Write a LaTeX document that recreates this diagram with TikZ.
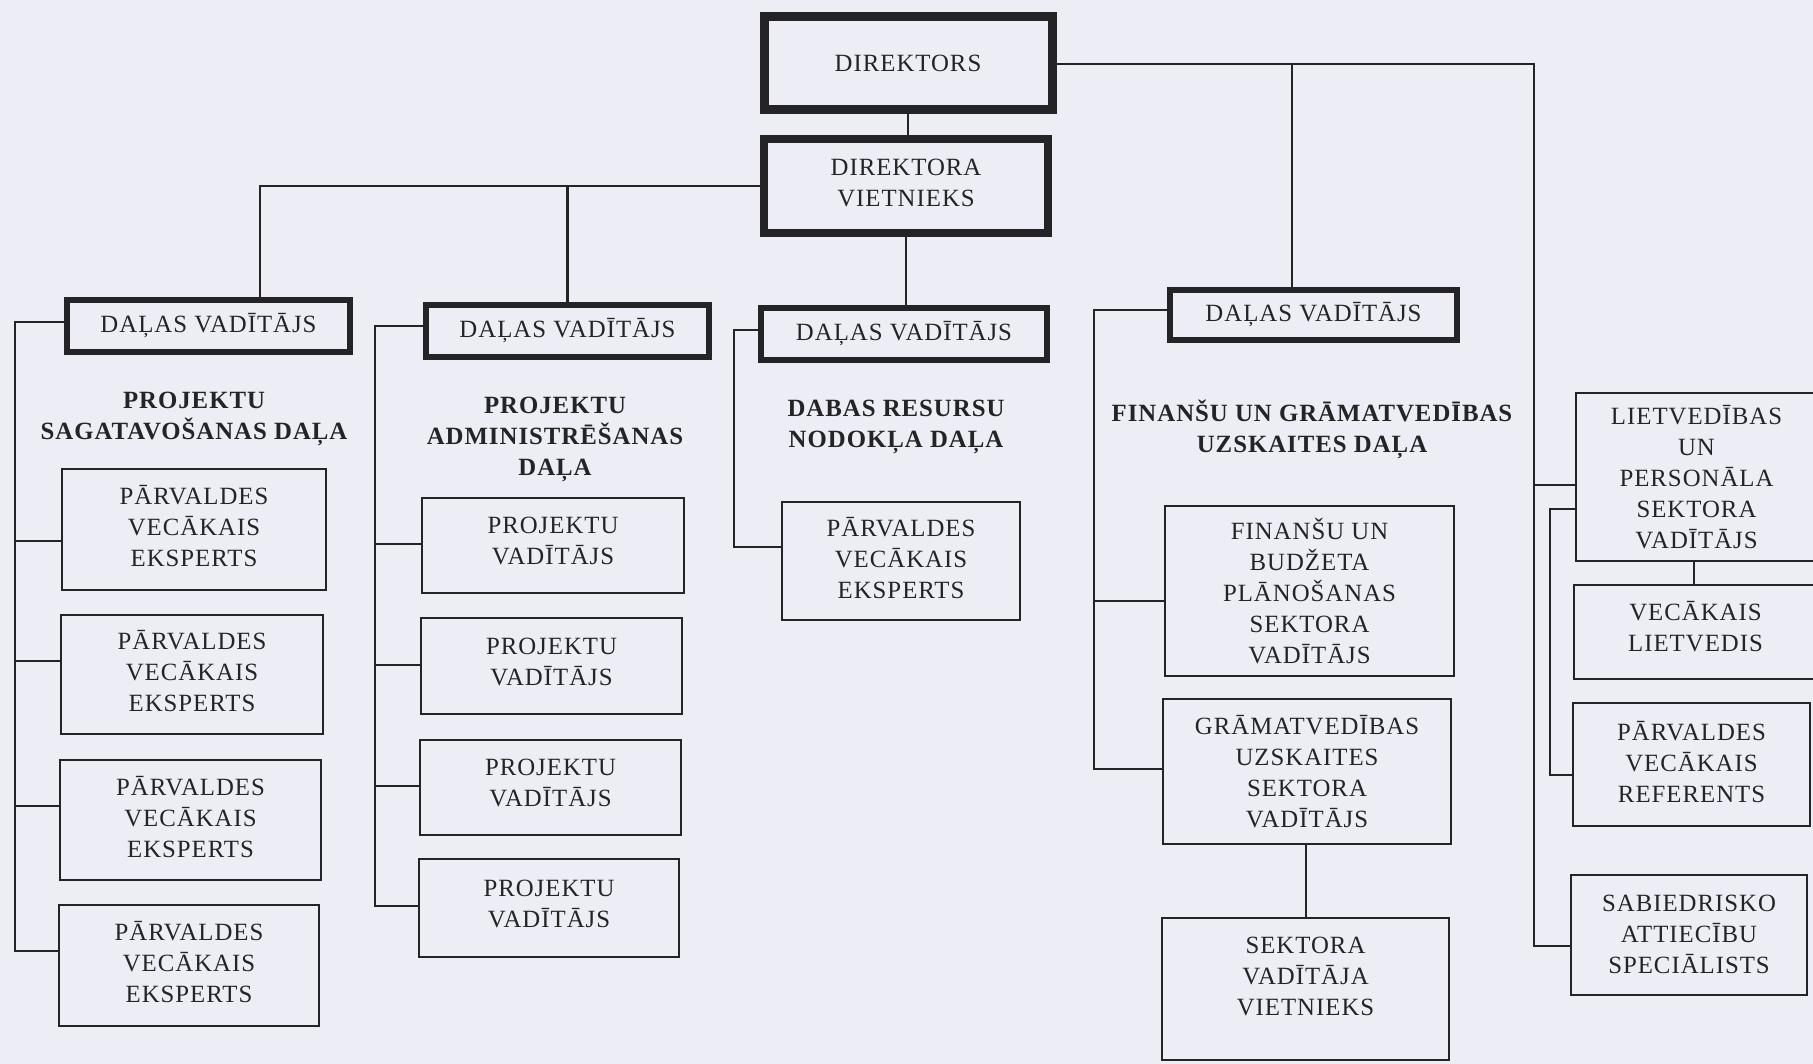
\documentclass[tikz,border=0pt]{standalone}
\usepackage{fontspec}
\setmainfont{Liberation Serif}[LetterSpace=4]
\definecolor{paper}{RGB}{237,238,245}
\definecolor{ink}{RGB}{36,36,38}
\begin{document}
\begin{tikzpicture}[x=0.5pt,y=-0.5pt,
  every node/.style={font=\fontsize{12.4}{15.5}\selectfont, align=center, text=ink, inner sep=0pt},
  thickbox/.style={draw=ink, line width=4.5pt},
  headbox/.style={draw=ink, line width=3pt},
  plainbox/.style={draw=ink, line width=1.2pt},
  conn/.style={draw=ink, line width=1.1pt},
  titletext/.style={font=\bfseries\fontsize{12.4}{15.5}\selectfont}]
\useasboundingbox (0,0) rectangle (1813,1064);
\fill[paper] (0,0) rectangle (1813,1064);

% top
\node[thickbox, minimum width=144pt, minimum height=46.5pt] (dir) at (908,63) {DIREKTORS};
\node[thickbox, line width=4pt, minimum width=142pt, minimum height=47pt, text depth=3.5pt] (viet) at (906,186) {DIREKTORA\\VIETNIEKS};

% department heads
\node[headbox, minimum width=141.5pt, minimum height=26pt] (dv1) at (208.5,326) {DAĻAS VADĪTĀJS};
\node[headbox, minimum width=141.5pt, minimum height=26pt] (dv2) at (567.5,331) {DAĻAS VADĪTĀJS};
\node[headbox, minimum width=143pt, minimum height=26pt] (dv3) at (904,334) {DAĻAS VADĪTĀJS};
\node[headbox, minimum width=143.5pt, minimum height=25pt] (dv4) at (1313.5,315) {DAĻAS VADĪTĀJS};

% titles
\node[titletext] (t1) at (194,419) {PROJEKTU\\SAGATAVOŠANAS DAĻA};
\node[titletext] (t2) at (555,439) {PROJEKTU\\ADMINISTRĒŠANAS\\DAĻA};
\node[titletext] (t3) at (896,426.5) {DABAS RESURSU\\NODOKĻA DAĻA};
\node[titletext] (t4) at (1312,429) {FINANŠU UN GRĀMATVEDĪBAS\\UZSKAITES DAĻA};

% column 1
\node[plainbox, minimum width=131.8pt, minimum height=60.3pt, text depth=3.5pt] (p1) at (194,529.5) {PĀRVALDES\\VECĀKAIS\\EKSPERTS};
\node[plainbox, minimum width=130.8pt, minimum height=59.3pt, text depth=3.5pt] (p2) at (192,674.5) {PĀRVALDES\\VECĀKAIS\\EKSPERTS};
\node[plainbox, minimum width=130.3pt, minimum height=59.8pt, text depth=3.5pt] (p3) at (190.5,820) {PĀRVALDES\\VECĀKAIS\\EKSPERTS};
\node[plainbox, minimum width=129.8pt, minimum height=60.3pt, text depth=3.5pt] (p4) at (189,965.5) {PĀRVALDES\\VECĀKAIS\\EKSPERTS};

% column 2
\node[plainbox, minimum width=130.8pt, minimum height=47.3pt, text depth=4.6pt] (q1) at (553,545.5) {PROJEKTU\\VADĪTĀJS};
\node[plainbox, minimum width=130.3pt, minimum height=47.8pt, text depth=4.6pt] (q2) at (551.5,666) {PROJEKTU\\VADĪTĀJS};
\node[plainbox, minimum width=130.3pt, minimum height=47.3pt, text depth=4.6pt] (q3) at (550.5,787.5) {PROJEKTU\\VADĪTĀJS};
\node[plainbox, minimum width=129.8pt, minimum height=48.8pt, text depth=4.6pt] (q4) at (549,908) {PROJEKTU\\VADĪTĀJS};

% column 3
\node[plainbox, minimum width=118.8pt, minimum height=58.8pt, text depth=3.5pt] (c3) at (901,561) {PĀRVALDES\\VECĀKAIS\\EKSPERTS};

% column 4
\node[plainbox, minimum width=144.3pt, minimum height=84.8pt] (fin1) at (1309.5,591) {FINANŠU UN\\BUDŽETA\\PLĀNOŠANAS\\SEKTORA\\VADĪTĀJS};
\node[plainbox, minimum width=143.8pt, minimum height=72.3pt] (fin2) at (1307,771.5) {GRĀMATVEDĪBAS\\UZSKAITES\\SEKTORA\\VADĪTĀJS};
\node[plainbox, minimum width=143.3pt, minimum height=70.8pt, text depth=13pt] (fin3) at (1305.5,989) {SEKTORA\\VADĪTĀJA\\VIETNIEKS};

% right column
\node[plainbox, minimum width=120.3pt, minimum height=83.8pt] (lietv) at (1696.5,477) {LIETVEDĪBAS\\UN\\PERSONĀLA\\SEKTORA\\VADĪTĀJS};
\node[plainbox, minimum width=121.3pt, minimum height=46.8pt, text depth=5.8pt] (vec) at (1695.5,632) {VECĀKAIS\\LIETVEDIS};
\node[plainbox, minimum width=118.3pt, minimum height=61.3pt, text depth=2.4pt] (ref) at (1691.5,764.5) {PĀRVALDES\\VECĀKAIS\\REFERENTS};
\node[plainbox, minimum width=117.8pt, minimum height=59.8pt, text depth=1.2pt] (sab) at (1689,935) {SABIEDRISKO\\ATTIECĪBU\\SPECIĀLISTS};

% connectors: top
\coordinate (a1) at (260,186);
\coordinate (a2) at (1534,64);
\coordinate (a3) at (1292,64);
\coordinate (a5) at (1694,0);
\coordinate (a6) at (1306,0);
\draw[conn] (dir.south) -- (dir.south |- viet.north);
\draw[conn] (viet.west) -- (a1) -- (a1 |- dv1.north);
\draw[conn] (dv2.north) -- (dv2.north |- a1);
\draw[conn] (viet.south) -- (viet.south |- dv3.north);
\draw[conn] (dir.east |- a2) -- (a2) -- (1534,946) -- (sab.west |- 0,946);
\draw[conn] (a3) -- (a3 |- dv4.north);
\draw[conn] (1534,485) -- (lietv.west |- 0,485);

% column 1
\draw[conn] (dv1.west |- 0,322) -- (15,322) -- (15,951) -- (p4.west |- 0,951);
\draw[conn] (15,541) -- (p1.west |- 0,541);
\draw[conn] (15,661) -- (p2.west |- 0,661);
\draw[conn] (15,806) -- (p3.west |- 0,806);

% column 2
\draw[conn] (dv2.west |- 0,326) -- (375,326) -- (375,906) -- (q4.west |- 0,906);
\draw[conn] (375,544) -- (q1.west |- 0,544);
\draw[conn] (375,665) -- (q2.west |- 0,665);
\draw[conn] (375,786) -- (q3.west |- 0,786);

% column 3
\draw[conn] (dv3.west |- 0,330) -- (734,330) -- (734,547) -- (c3.west |- 0,547);

% column 4
\draw[conn] (dv4.west |- 0,310) -- (1094,310) -- (1094,769) -- (fin2.west |- 0,769);
\draw[conn] (1094,601) -- (fin1.west |- 0,601);
\draw[conn] (fin2.south -| a6) -- (fin3.north -| a6);

% right group
\draw[conn] (lietv.west |- 0,509) -- (1550,509) -- (1550,775) -- (ref.west |- 0,775);
\draw[conn] (lietv.south -| a5) -- (vec.north -| a5);
\end{tikzpicture}
\end{document}
